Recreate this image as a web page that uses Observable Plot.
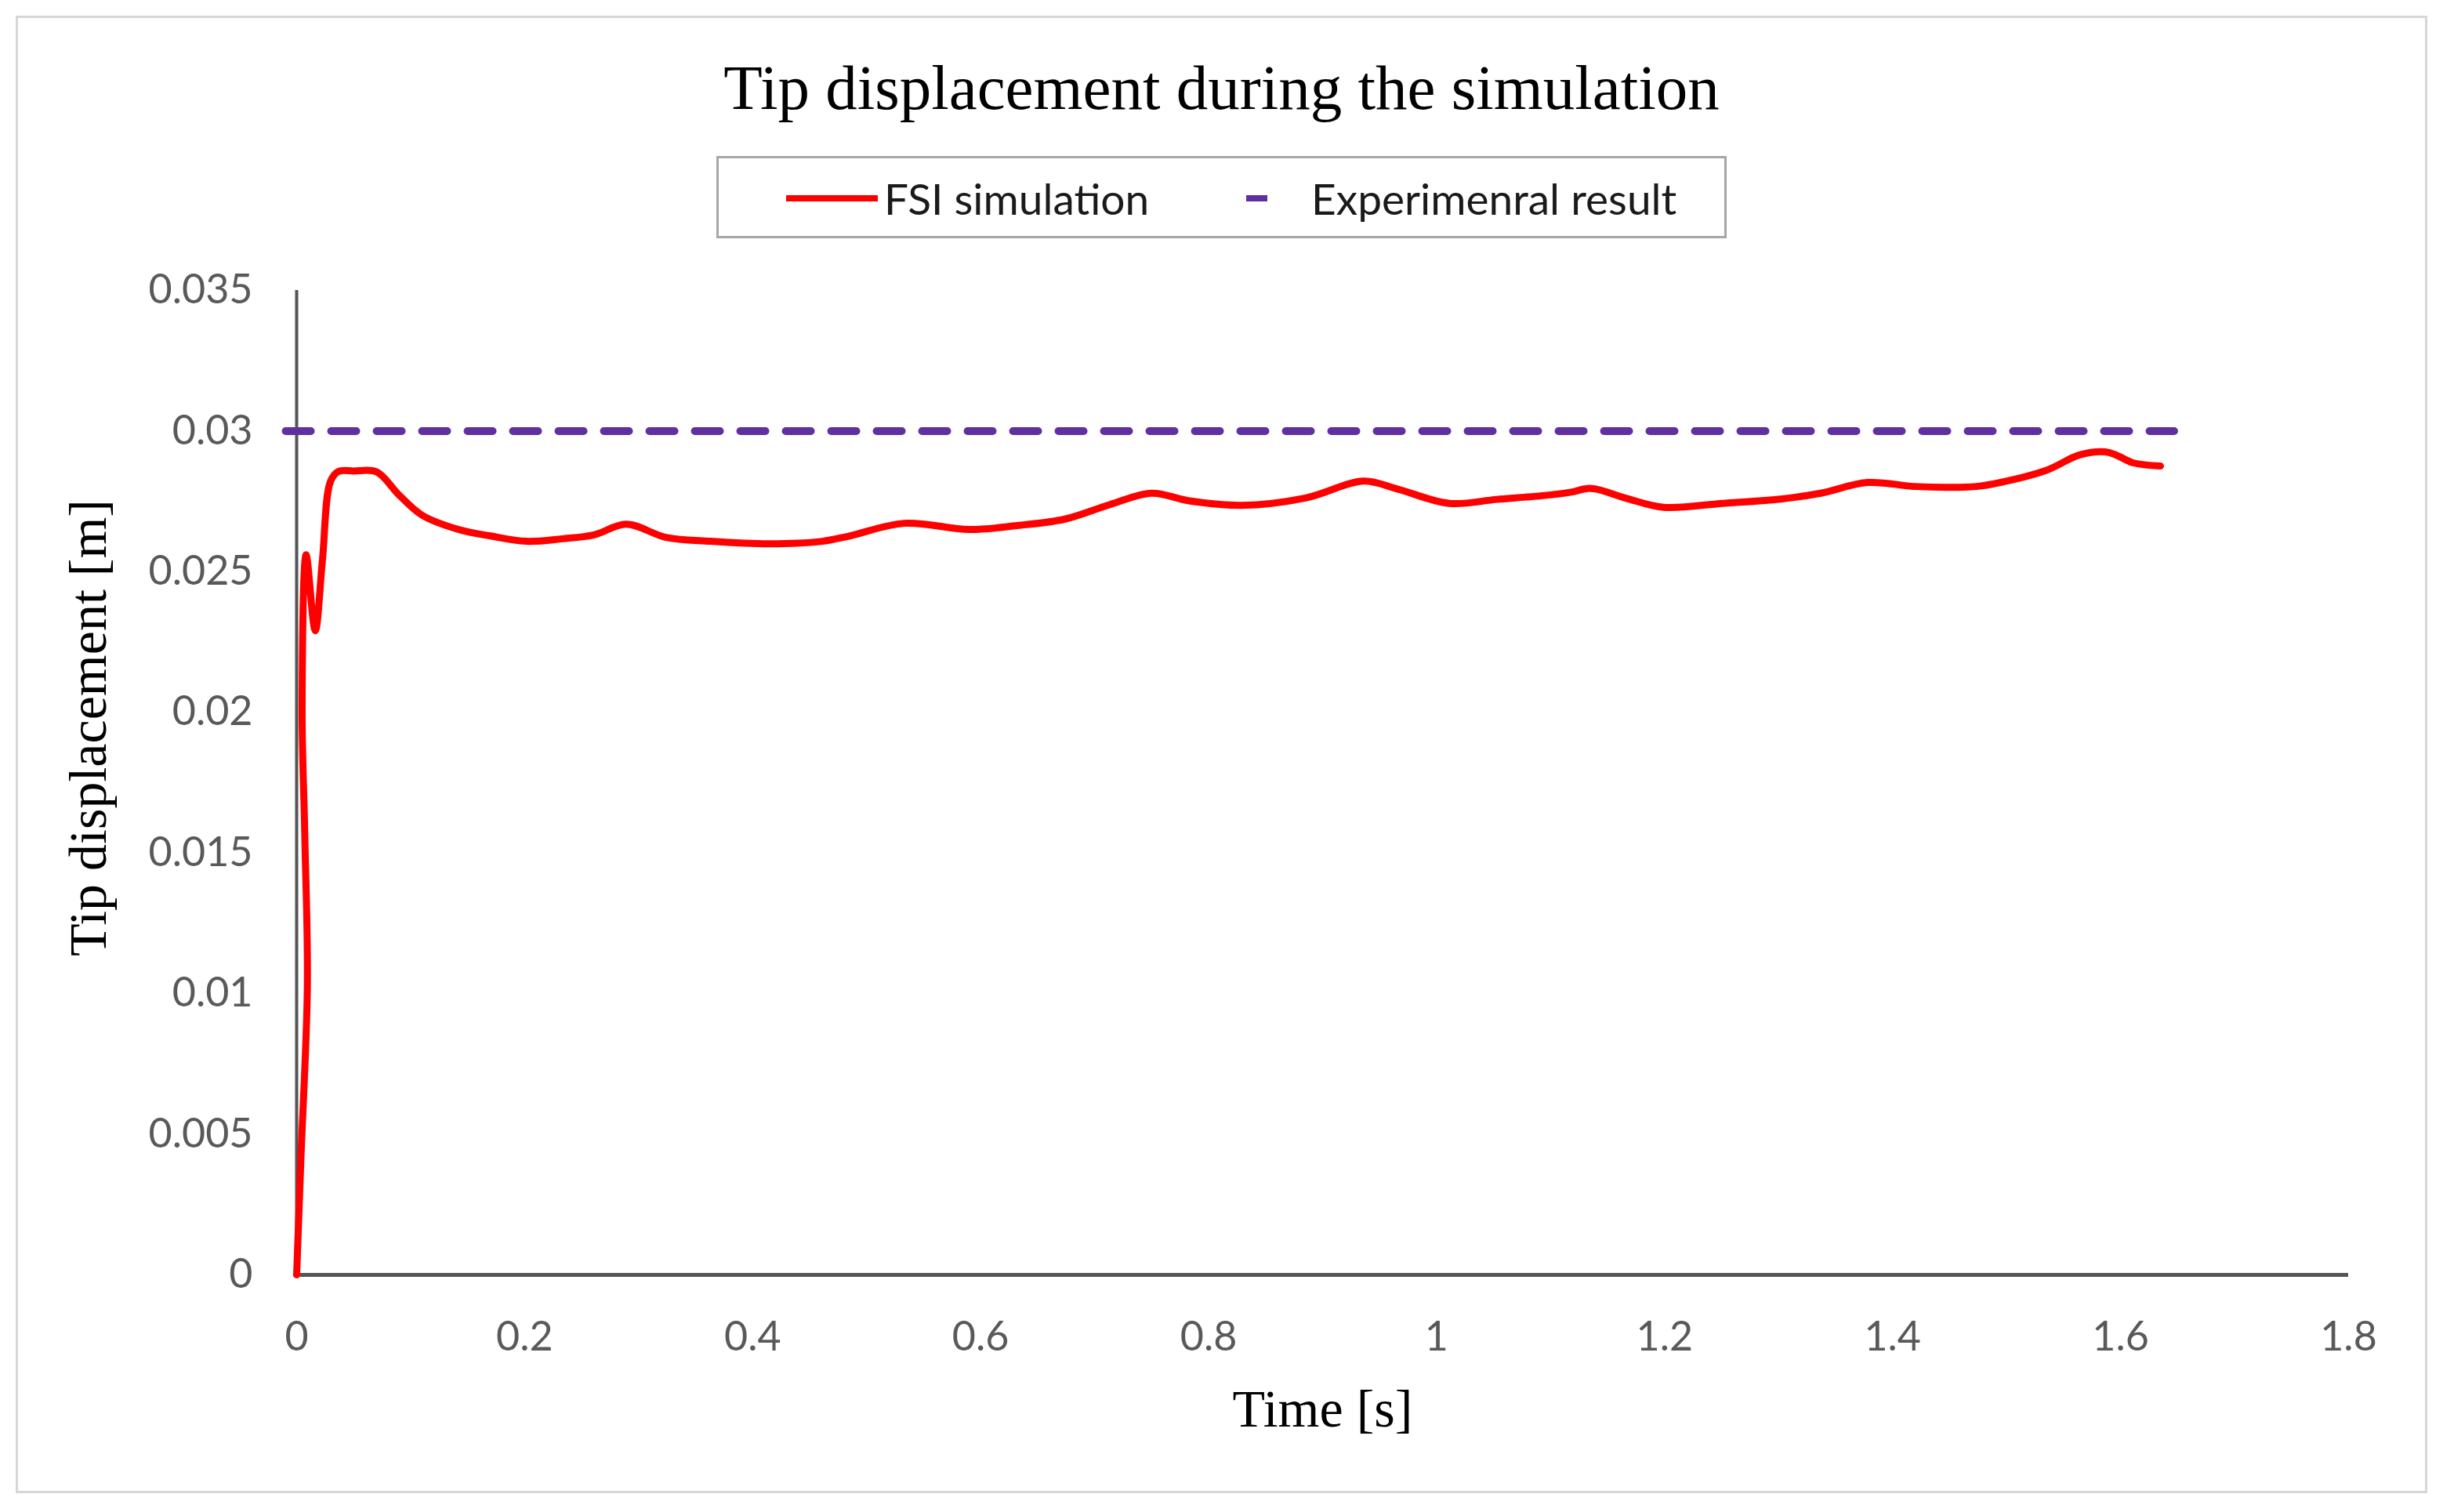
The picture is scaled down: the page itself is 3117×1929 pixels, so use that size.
<!DOCTYPE html>
<html>
<head>
<meta charset="utf-8">
<script src="https://cdn.jsdelivr.net/npm/d3@7"></script>
<script src="https://cdn.jsdelivr.net/npm/@observablehq/plot@0.6"></script>
<style>
  body { margin: 0; background: #fff; }
  #page { position: relative; width: 3117px; height: 1929px; overflow: hidden; }
  #frame { position: absolute; left: 20px; top: 20px; width: 3077px; height: 1885px; box-sizing: border-box; border: 3px solid #d6d6d6; }
  #title { position: absolute; left: 0; width: 3117px; top: 72px; text-align: center; font-family: "Liberation Serif", serif; font-size: 81px; line-height: 81px; color: #000; }
  #legend { position: absolute; left: 914px; top: 199px; width: 1289px; height: 105px; box-sizing: border-box; border: 3px solid #a6a6a6; }
  #legend .sw { position: absolute; top: 47px; height: 8px; }
  #legend .lb { position: absolute; top: 51px; transform: translateY(-50%); font-family: Lato, sans-serif; font-size: 55px; line-height: 1; color: #1a1a1a; white-space: nowrap; }
  #chart { position: absolute; left: 0; top: 300px; }
</style>
</head>
<body>
<div id="page">
  <div id="frame"></div>
  <div id="title">Tip displacement during the simulation</div>
  <div id="legend">
    <div class="sw" style="left:86px;width:117px;background:#ff0000;"></div>
    <div class="lb" style="left:211px;">FSI simulation</div>
    <div class="sw" style="left:673px;width:27px;background:#6030a0;"></div>
    <div class="lb" style="left:756px;">Experimenral result</div>
  </div>
  <div id="chart"></div>
</div>
<script>
// FSI simulation (red curve)
const simTime = [0, 0.0037, 0.0094, 0.0071, 0.0048, 0.0083, 0.0163, 0.0226, 0.0296, 0.0366, 0.05, 0.07,
  0.0893, 0.11, 0.142, 0.17, 0.2015, 0.233, 0.261, 0.289, 0.324, 0.363, 0.415, 0.461, 0.485, 0.533,
  0.59, 0.632, 0.674, 0.713, 0.75, 0.783, 0.829, 0.885, 0.936, 0.9655, 1.011, 1.053, 1.0946, 1.117,
  1.1356, 1.1654, 1.199, 1.251, 1.303, 1.337, 1.378, 1.419, 1.4524, 1.478, 1.534, 1.564, 1.5866,
  1.596, 1.611, 1.635]
const simDisp = [0, 0.0041, 0.0103, 0.0157, 0.0201, 0.0256, 0.0229, 0.0254, 0.0282, 0.02856, 0.02858, 0.02855,
  0.02775, 0.02701, 0.0265, 0.02627, 0.02608, 0.02617, 0.02631, 0.02669, 0.02622, 0.02608, 0.02599, 0.02608, 0.02627, 0.02672,
  0.0265, 0.02664, 0.02687, 0.02738, 0.02779, 0.02752, 0.02736, 0.02762, 0.02822, 0.02794, 0.02743, 0.02757, 0.02771, 0.02782,
  0.02796, 0.02762, 0.02729, 0.02743, 0.02759, 0.02779, 0.02817, 0.02803, 0.028, 0.02805, 0.02859, 0.02915, 0.02926,
  0.02915, 0.02887, 0.02876]

// Experimental result (purple dashed)
const expTime = [-0.0096, 1.647]
const expDisp = [0.03, 0.03]

const xTicks = [0, 0.2, 0.4, 0.6, 0.8, 1, 1.2, 1.4, 1.6, 1.8]
const yTicks = [0, 0.005, 0.01, 0.015, 0.02, 0.025, 0.03, 0.035]

const sim = simTime.map((t, i) => ({t: t, v: simDisp[i]}))
const exp = expTime.map((t, i) => ({t: t, v: expDisp[i]}))

let chart = Plot.plot({
  width: 3117,
  height: 1600,
  marginLeft: 378,
  marginRight: 121,
  marginTop: 70,
  marginBottom: 274,
  x: {domain: [0, 1.8]},
  y: {domain: [0, 0.035]},
  style: {fontFamily: "Lato, sans-serif", fontSize: "52px", background: "transparent", overflow: "visible"},
  marks: [
    Plot.axisX({ticks: xTicks, tickSize: 0, tickPadding: 60, tickFormat: d => String(d), label: null, fill: "#595959", fontSize: 52}),
    Plot.axisY({ticks: yTicks, tickSize: 0, tickPadding: 56, tickFormat: d => String(d), label: null, fill: "#595959", fontSize: 52}),
    Plot.ruleX([0], {stroke: "#555", strokeWidth: 4}),
    Plot.ruleY([0], {stroke: "#555", strokeWidth: 5}),
    Plot.line(exp, {x: 't', y: 'v', stroke: '#6030a0', strokeWidth: 10, strokeDasharray: "32,26"}),
    Plot.line(sim, {x: 't', y: 'v', stroke: '#ff0000', strokeWidth: 9, curve: 'catmull-rom'}),
    Plot.text(["Time [s]"], {text: d => d, frameAnchor: "bottom", dy: 193, fontFamily: "Liberation Serif", fontSize: 68, fill: "#000"}),
    Plot.text(["Tip displacement [m]"], {text: d => d, frameAnchor: "left", textAnchor: "middle", rotate: -90, dx: -265, dy: -70,
      fontFamily: "Liberation Serif", fontSize: 68, fill: "#000"}),
  ],
})

d3.select('#chart').append(() => chart)
</script>
</body>
</html>
